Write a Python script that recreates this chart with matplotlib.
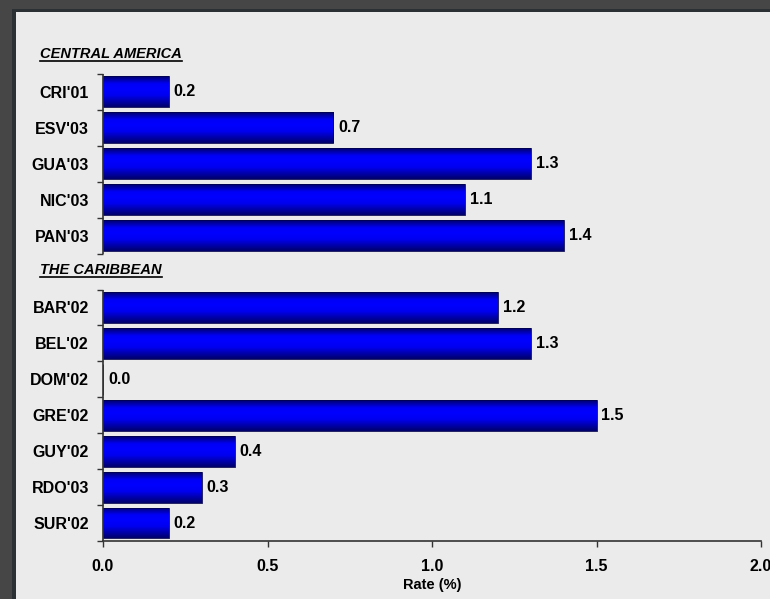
import matplotlib
matplotlib.use("Agg")
import matplotlib.pyplot as plt
import numpy as np
from matplotlib.colors import LinearSegmentedColormap
from matplotlib.lines import Line2D
from matplotlib.patches import Rectangle

plt.rcParams['font.family'] = ['Liberation Sans', 'DejaVu Sans']

group_names = ["CENTRAL AMERICA", "THE CARIBBEAN"]
central_labels = ["CRI'01", "ESV'03", "GUA'03", "NIC'03", "PAN'03"]
central_values = [0.2, 0.7, 1.3, 1.1, 1.4]
carib_labels = ["BAR'02", "BEL'02", "DOM'02", "GRE'02", "GUY'02", "RDO'03", "SUR'02"]
carib_values = [1.2, 1.3, 0.0, 1.5, 0.4, 0.3, 0.2]
x_ticks = [0.0, 0.5, 1.0, 1.5, 2.0]
x_label = "Rate (%)"

BG = "#ebebeb"
fig = plt.figure(figsize=(7.7, 5.99), dpi=100, facecolor=BG)

# frame bands (top / left)
fig.patches.append(Rectangle((0, 1 - 9/599), 1, 9/599, transform=fig.transFigure,
                             facecolor="#464646", edgecolor="none", zorder=0))
fig.patches.append(Rectangle((0, 1 - 12/599), 1, 3/599, transform=fig.transFigure,
                             facecolor="#2b3035", edgecolor="none", zorder=0))
fig.patches.append(Rectangle((0, 0), 12/770, 1, transform=fig.transFigure,
                             facecolor="#464646", edgecolor="none", zorder=1))
fig.patches.append(Rectangle((12/770, 0), 4/770, 1 - 9/599, transform=fig.transFigure,
                             facecolor="#2b3035", edgecolor="none", zorder=1))

ax = fig.add_axes([103/770, 58/599, 658/770, (541 - 38)/599])
ax.set_facecolor("none")

labels = []
values = []
ypos = []
pos = 0
header_pos = []
groups = [(central_labels, central_values), (carib_labels, carib_values)]
for (labs, vals) in groups:
    header_pos.append(pos)
    pos += 1
    for l, v in zip(labs, vals):
        labels.append(l)
        values.append(v)
        ypos.append(pos)
        pos += 1
n_slots = pos

ax.set_xlim(0, 2.0)
ax.set_ylim(n_slots - 0.5, -0.5)

bars = ax.barh(ypos, values, height=0.86, color="none", edgecolor="#000050",
               linewidth=0.6, zorder=3)

cmap = LinearSegmentedColormap.from_list(
    "bar", [(0.0, "#000068"), (0.25, "#0000f8"), (0.42, "#0000ff"),
            (0.62, "#0000f0"), (1.0, "#00006a")])
grad = np.linspace(0, 1, 256).reshape(-1, 1)
for b in bars:
    x0, y0 = b.get_x(), b.get_y()
    w, h = b.get_width(), b.get_height()
    if w <= 0:
        continue
    im = ax.imshow(grad, cmap=cmap, aspect="auto", extent=(x0, x0 + w, y0 + h, y0),
                   origin="upper", zorder=2, interpolation="bilinear")
    im.set_clip_path(b)

ax.set_xlim(0, 2.0)
ax.set_ylim(n_slots - 0.5, -0.5)

for y, v in zip(ypos, values):
    ax.text(v + 0.015, y, f"{v:.1f}", va="center", ha="left",
            fontsize=11.5, fontweight="bold", color="black", zorder=4)

bounds = sorted(set([y - 0.5 for y in ypos] + [y + 0.5 for y in ypos]))
ax.set_yticks(bounds)
ax.set_yticklabels([])
ax.tick_params(axis="y", which="major", direction="out", length=4, width=1, color="#333333")
ax.set_yticks(ypos, minor=True)
ax.set_yticklabels(labels, minor=True, fontsize=11.5, fontweight="bold")
ax.tick_params(axis="y", which="minor", length=0, pad=10)

ax.set_xticks(x_ticks)
ax.set_xticklabels([f"{t:.1f}" for t in x_ticks], fontsize=11.5, fontweight="bold")
ax.tick_params(axis="x", direction="out", length=4, width=1, color="#333333", pad=9)
ax.set_xlabel(x_label, fontsize=10.5, fontweight="bold", labelpad=3)

for s in ["top", "right", "left"]:
    ax.spines[s].set_visible(False)
ax.spines["bottom"].set_color("#333333")
ax.spines["bottom"].set_linewidth(1.2)

start = 0
for (labs, vals) in groups:
    seg = ypos[start:start + len(labs)]
    start += len(labs)
    ax.plot([0, 0], [seg[0] - 0.5, seg[-1] + 0.5], color="#333333", lw=1.2,
            clip_on=False, zorder=5, solid_capstyle="butt")

fig.canvas.draw()
renderer = fig.canvas.get_renderer()
for name, hp in zip(group_names, header_pos):
    t = ax.text(-0.19, hp - 0.05, name, ha="left", va="center", fontsize=10.5,
                fontweight="bold", fontstyle="italic", color="black",
                transform=ax.transData, clip_on=False)
    bb = t.get_window_extent(renderer)
    inv = fig.transFigure.inverted()
    (x0, y0), (x1, y1) = inv.transform([(bb.x0, bb.y0), (bb.x1, bb.y1)])
    fig.add_artist(Line2D([x0, x1], [y0 - 0.2/599, y0 - 0.2/599], color="black", lw=1.2,
                          transform=fig.transFigure))

fig.savefig("out.png", dpi=100, facecolor=BG)
